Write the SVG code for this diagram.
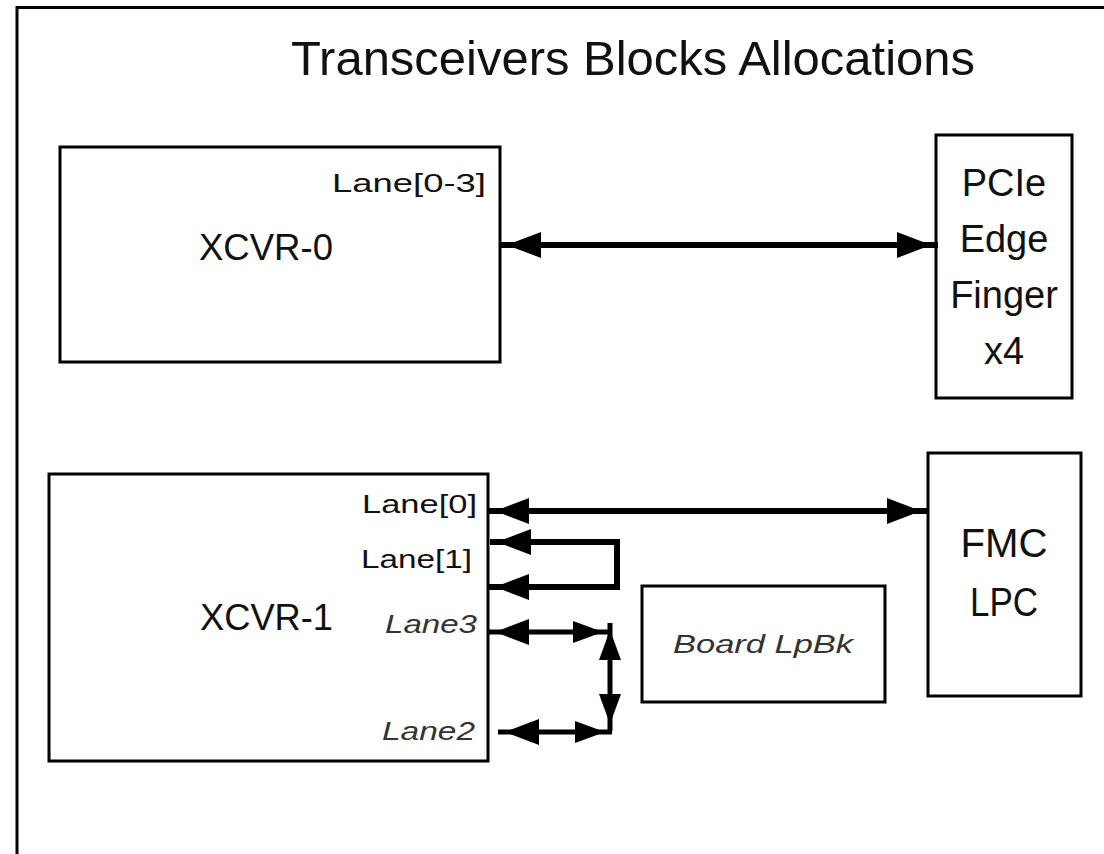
<svg xmlns="http://www.w3.org/2000/svg" width="1104" height="854" viewBox="0 0 1104 854">
<style>
.box{fill:#fff;stroke:#000;stroke-width:3}
.t{font-family:"Liberation Sans",Arial,sans-serif;fill:#111}
.it{font-family:"Liberation Sans",Arial,sans-serif;font-style:italic;fill:#333}
.c{fill:none;stroke:#000;stroke-width:6;stroke-linejoin:miter}
.cv{fill:none;stroke:#000;stroke-width:5}
</style>
<defs>
<marker id="ah" viewBox="-42 -14 42 28" refX="0" refY="0" markerWidth="42" markerHeight="28" markerUnits="userSpaceOnUse" orient="auto-start-reverse">
<polygon points="-7,0 -41,-13 -41,13" fill="#000"/>
</marker>
<marker id="ahs" viewBox="-38 -12 38 24" refX="0" refY="0" markerWidth="38" markerHeight="24" markerUnits="userSpaceOnUse" orient="auto-start-reverse">
<polygon points="-7,0 -37,-11 -37,11" fill="#000"/>
</marker>
</defs>
<rect width="1104" height="854" fill="#fff"/>
<path d="M17,856 V7.5 H1106" fill="none" stroke="#000" stroke-width="3"/>
<text class="t" x="291" y="75" font-size="48" textLength="684" lengthAdjust="spacingAndGlyphs">Transceivers  Blocks Allocations</text>

<g id="xcvr0">
<rect class="box" x="60" y="147" width="440" height="215"/>
<text class="t" x="332" y="192" font-size="26" textLength="154" lengthAdjust="spacingAndGlyphs">Lane[0-3]</text>
<text class="t" x="199" y="260" font-size="37" textLength="134" lengthAdjust="spacingAndGlyphs">XCVR-0</text>
</g>

<g id="pcie">
<rect class="box" x="936" y="135" width="136" height="263"/>
<text class="t" x="1004" y="196" font-size="38" text-anchor="middle">PCIe</text>
<text class="t" x="1004" y="252" font-size="38" text-anchor="middle">Edge</text>
<text class="t" x="1004" y="308" font-size="38" text-anchor="middle">Finger</text>
<text class="t" x="1004" y="364" font-size="38" text-anchor="middle">x4</text>
</g>

<g id="xcvr1">
<rect class="box" x="49" y="474" width="439" height="287"/>
<text class="t" x="362" y="513" font-size="26" textLength="115" lengthAdjust="spacingAndGlyphs">Lane[0]</text>
<text class="t" x="361" y="568" font-size="26" textLength="111" lengthAdjust="spacingAndGlyphs">Lane[1]</text>
<text class="t" x="200" y="630" font-size="37" textLength="133" lengthAdjust="spacingAndGlyphs">XCVR-1</text>
<text class="it" x="385" y="633" font-size="25" textLength="92" lengthAdjust="spacingAndGlyphs">Lane3</text>
<text class="it" x="382" y="740" font-size="25" textLength="93" lengthAdjust="spacingAndGlyphs">Lane2</text>
</g>

<g id="fmc">
<rect class="box" x="928" y="453" width="153" height="243"/>
<text class="t" x="1004" y="557" font-size="40" text-anchor="middle" textLength="87" lengthAdjust="spacingAndGlyphs">FMC</text>
<text class="t" x="1004" y="616" font-size="40" text-anchor="middle" textLength="68" lengthAdjust="spacingAndGlyphs">LPC</text>
</g>

<g id="lpbk">
<rect class="box" x="642" y="586" width="243" height="116"/>
<text class="it" x="673" y="653" font-size="26" textLength="180" lengthAdjust="spacingAndGlyphs">Board LpBk</text>
</g>

<g id="connectors">
<path class="c" d="M500,245 H938" marker-start="url(#ah)" marker-end="url(#ah)"/>
<path class="c" d="M488,511 H928" marker-start="url(#ah)" marker-end="url(#ah)"/>
<path class="c" d="M490,542 H617 V587 H488" marker-start="url(#ah)" marker-end="url(#ah)"/>
<path class="cv" d="M488,632 H610" marker-start="url(#ah)" marker-end="url(#ahs)"/>
<path class="cv" d="M610,623 V731" marker-start="url(#ahs)" marker-end="url(#ahs)"/>
<path class="cv" d="M498,732 H612" marker-start="url(#ah)" marker-end="url(#ahs)"/>
</g>
</svg>
